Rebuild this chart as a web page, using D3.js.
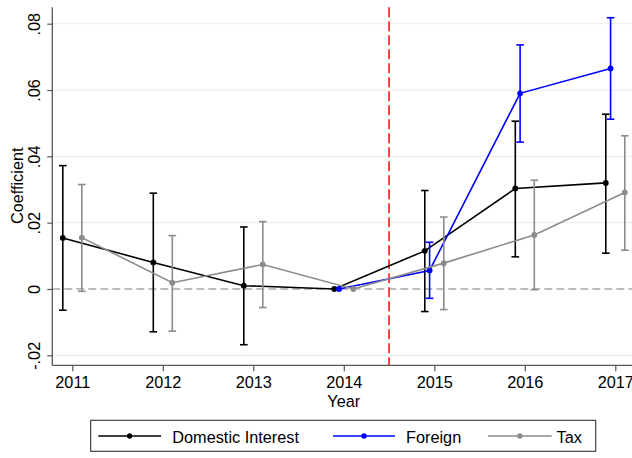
<!DOCTYPE html>
<html><head><meta charset="utf-8">
<script src="https://cdn.jsdelivr.net/npm/d3@7"></script>
<style>
html,body{margin:0;padding:0;background:#fff;}
text{font-family:"Liberation Sans",Arial,Helvetica,sans-serif;}
</style></head>
<body>
<svg id="chart" width="632" height="458"></svg>
<script>
const years = [2011, 2012, 2013, 2014, 2015, 2016, 2017];
const yTicks = [-0.02, 0, 0.02, 0.04, 0.06, 0.08];
const yTickLabels = ["-.02", "0", ".02", ".04", ".06", ".08"];

const domesticYears = [2011, 2012, 2013, 2014, 2015, 2016, 2017];
const domesticCoef  = [0.0154, 0.0080, 0.0010, 0.0000, 0.0115, 0.0303, 0.0320];
const domesticLo    = [-0.0064, -0.0129, -0.0168, null, -0.0068, 0.0097, 0.0108];
const domesticHi    = [0.0372, 0.0289, 0.0187, null, 0.0297, 0.0506, 0.0527];

const foreignYears = [2014, 2015, 2016, 2017];
const foreignCoef  = [0.0000, 0.0056, 0.0590, 0.0665];
const foreignLo    = [null, -0.0028, 0.0443, 0.0512];
const foreignHi    = [null, 0.0141, 0.0736, 0.0818];

const taxYears = [2011, 2012, 2013, 2014, 2015, 2016, 2017];
const taxCoef  = [0.0155, 0.0019, 0.0074, 0.0000, 0.0078, 0.0163, 0.0291];
const taxLo    = [-0.0007, -0.0127, -0.0056, null, -0.0062, -0.0002, 0.0117];
const taxHi    = [0.0315, 0.0161, 0.0203, null, 0.0217, 0.0328, 0.0462];

const seriesNames = ["Domestic Interest", "Foreign", "Tax"];
const seriesColors = ["#000000", "#0000ff", "#8c8c8c"];
const seriesOffsets = [-0.105, -0.052, 0.105];
const treatmentLine = 2014.5;

const series = [
  {name: seriesNames[0], color: seriesColors[0], off: seriesOffsets[0], years: domesticYears, coef: domesticCoef, lo: domesticLo, hi: domesticHi},
  {name: seriesNames[1], color: seriesColors[1], off: seriesOffsets[1], years: foreignYears, coef: foreignCoef, lo: foreignLo, hi: foreignHi},
  {name: seriesNames[2], color: seriesColors[2], off: seriesOffsets[2], years: taxYears, coef: taxCoef, lo: taxLo, hi: taxHi}
];

const FS = 16.3;
const svg = d3.select("#chart");
const pLeft = 52.3, pTop = 7.3, pBottom = 365.3, pRight = 632;

const x = d3.scaleLinear().domain([2011, 2017]).range([72.3, 615.3]);
const y = d3.scaleLinear().domain([0, 0.08]).range([289, 23.7]);

// gridlines
svg.append("g").selectAll("line").data(yTicks.filter(d => d !== 0)).join("line")
  .attr("x1", pLeft).attr("x2", pRight)
  .attr("y1", d => y(d)).attr("y2", d => y(d))
  .attr("stroke", "#e8f0f1").attr("stroke-width", 1.2);

// zero dashed line
svg.append("line").attr("x1", pLeft).attr("x2", pRight)
  .attr("y1", y(0)).attr("y2", y(0))
  .attr("stroke", "#a8a8a8").attr("stroke-width", 1.3)
  .attr("stroke-dasharray", "8,4");

// red vertical dashed line
svg.append("line").attr("x1", x(treatmentLine)).attr("x2", x(treatmentLine))
  .attr("y1", pTop).attr("y2", pBottom)
  .attr("stroke", "#ff3030").attr("stroke-width", 1.8)
  .attr("stroke-dasharray", "10,4");

// axes
const yAxis = d3.axisLeft(y).tickValues(yTicks).tickFormat((d, i) => yTickLabels[i]).tickSize(5).tickPadding(4);
const gy = svg.append("g").attr("transform", `translate(${pLeft},0)`).call(yAxis);
gy.select(".domain").attr("d", `M0,${pTop}V${pBottom}`).attr("stroke", "#555").attr("stroke-width", 1.3);
gy.selectAll(".tick line").attr("stroke", "#555").attr("stroke-width", 1.2);
gy.selectAll(".tick text")
  .attr("font-size", FS).attr("fill", "#000")
  .attr("text-anchor", "middle")
  .attr("transform", "rotate(-90)")
  .attr("x", 0).attr("y", -12.8).attr("dy", null);

const xAxis = d3.axisBottom(x).tickValues(years).tickFormat(d3.format("d")).tickSize(6).tickPadding(5);
const gx = svg.append("g").attr("transform", `translate(0,${pBottom})`).call(xAxis);
gx.select(".domain").attr("d", `M${pLeft},0H${pRight}`).attr("stroke", "#555").attr("stroke-width", 1.3);
gx.selectAll(".tick line").attr("stroke", "#555").attr("stroke-width", 1.2);
gx.selectAll(".tick text").attr("font-size", FS).attr("fill", "#000").attr("y", 23).attr("dy", null);

// axis titles
svg.append("text").attr("x", x(2014)).attr("y", 406.5).attr("text-anchor", "middle")
  .attr("font-size", FS).text("Year");
svg.append("text").attr("transform", `translate(22.7,${(pTop + pBottom) / 2 - 0.5}) rotate(-90)`)
  .attr("text-anchor", "middle").attr("font-size", FS).text("Coefficient");

// series
const line = d3.line().x(d => x(d.yr)).y(d => y(d.c));
series.forEach(s => {
  const pts = s.years.map((yr, i) => ({yr: yr + s.off, c: s.coef[i], lo: s.lo[i], hi: s.hi[i]}));
  const g = svg.append("g");
  const ci = pts.filter(p => p.lo !== null);
  g.selectAll("line.ci").data(ci).join("line").attr("class", "ci")
    .attr("x1", p => x(p.yr)).attr("x2", p => x(p.yr))
    .attr("y1", p => y(p.lo)).attr("y2", p => y(p.hi))
    .attr("stroke", s.color).attr("stroke-width", 1.6);
  ["lo", "hi"].forEach(k => {
    g.selectAll("line.cap" + k).data(ci).join("line").attr("class", "cap" + k)
      .attr("x1", p => x(p.yr) - 3.8).attr("x2", p => x(p.yr) + 3.8)
      .attr("y1", p => y(p[k])).attr("y2", p => y(p[k]))
      .attr("stroke", s.color).attr("stroke-width", 1.6);
  });
  g.append("path").datum(pts).attr("d", line).attr("fill", "none")
    .attr("stroke", s.color).attr("stroke-width", 1.6);
  g.selectAll("circle").data(pts).join("circle")
    .attr("cx", p => x(p.yr)).attr("cy", p => y(p.c)).attr("r", 2.9)
    .attr("fill", s.color);
});

// legend
const lg = svg.append("g");
lg.append("rect").attr("x", 90.7).attr("y", 420.3).attr("width", 505).attr("height", 31)
  .attr("fill", "#fff").attr("stroke", "#333").attr("stroke-width", 1.1);
const legendItems = [
  {x1: 98.3, x2: 161, tx: 172.3},
  {x1: 333, x2: 395, tx: 406},
  {x1: 488, x2: 551.7, tx: 556.5}
];
series.forEach((s, i) => {
  const it = legendItems[i];
  const cy = 436;
  lg.append("line").attr("x1", it.x1).attr("x2", it.x2).attr("y1", cy).attr("y2", cy)
    .attr("stroke", s.color).attr("stroke-width", 1.4);
  lg.append("circle").attr("cx", (it.x1 + it.x2) / 2).attr("cy", cy).attr("r", 2.7).attr("fill", s.color);
  lg.append("text").attr("x", it.tx).attr("y", cy + 6.5).attr("font-size", FS).text(s.name);
});
</script>
</body></html>
